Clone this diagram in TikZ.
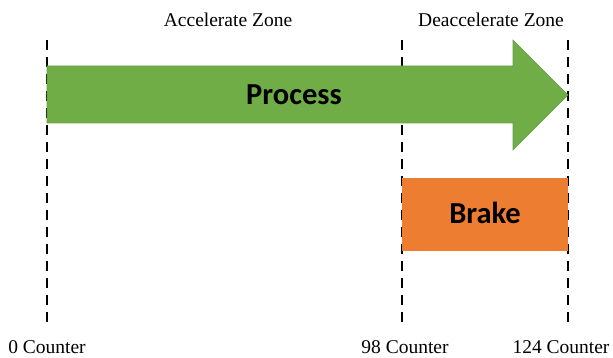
\documentclass[tikz,border=0pt]{standalone}
\usepackage{fontspec}
\setmainfont{Liberation Serif}
\newfontfamily\boxfont{Carlito}
\definecolor{procgreen}{HTML}{70AD47}
\definecolor{procedge}{HTML}{6A9E47}
\definecolor{brakeorange}{HTML}{ED7D31}
\begin{document}
\begin{tikzpicture}[x=1pt,y=-1pt,
  guide/.style={black,line width=1.8pt,dash pattern=on 10pt off 7pt},
  zonelabel/.style={font=\fontsize{19.5}{22}\selectfont,inner sep=0pt,anchor=base},
  countlabel/.style={font=\fontsize{19.5}{22}\selectfont,inner sep=0pt,anchor=base},
  boxtext/.style={font=\boxfont\bfseries\fontsize{30.5}{34}\selectfont,inner sep=0pt,anchor=base}]
\useasboundingbox (0,0) rectangle (613,358);
% guide lines
\coordinate (t0) at (47,40);
\coordinate (b0) at (47,328);
\coordinate (t1) at (402,40);
\coordinate (b1) at (402,328);
\coordinate (t2) at (568,40);
\coordinate (b2) at (568,328);
\draw[guide] (t0) -- (b0);
\draw[guide] (t1) -- (b1);
\draw[guide] (t2) -- (b2);
% process arrow
\fill[procgreen,draw=procedge,line width=0.6pt]
  (47,66) -- (513,66) -- (513,40) -- (568,95) -- (513,150) -- (513,123) -- (47,123) -- cycle;
\node[boxtext] (proc) at (294,105) {Process};
% brake box
\fill[brakeorange] (402,178) rectangle (568,251);
\node[boxtext] (brake) at (485,224) {Brake};
% labels
\node[zonelabel] (acc) at (228,27) {Accelerate Zone};
\node[zonelabel] (dec) at (491,27) {Deaccelerate Zone};
\node[countlabel] (c0) at (47,353) {0 Counter};
\node[countlabel] (c98) at (405,353) {98 Counter};
\node[countlabel] (c124) at (561,353) {124 Counter};
\end{tikzpicture}
\end{document}
